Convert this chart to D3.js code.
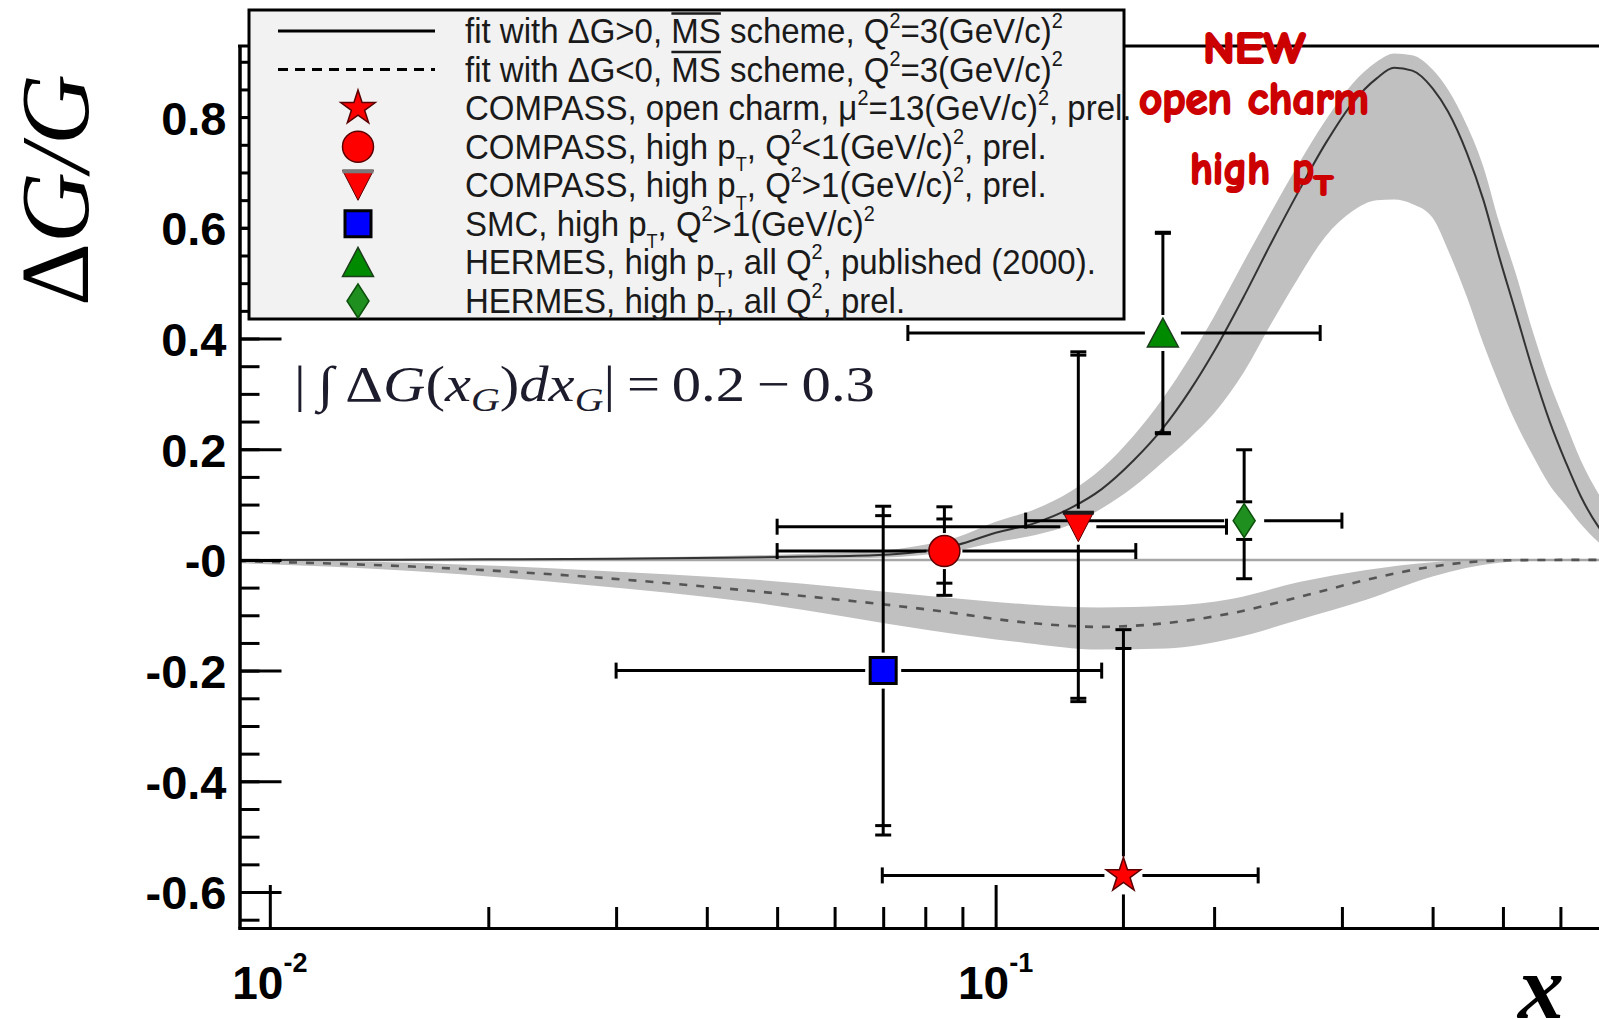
<!DOCTYPE html>
<html>
<head>
<meta charset="utf-8">
<script src="https://cdn.jsdelivr.net/npm/d3@7"></script>
<style>
  body { margin: 0; background: #fff; }
  svg { display: block; }
</style>
</head>
<body>
<svg id="chart" width="1599" height="1019"></svg>
<script>
// ---------------- data ----------------
// Fit with positive gluon polarisation (central curve and error band)
const fitX     = [0.00904, 0.02, 0.03, 0.042, 0.055, 0.069, 0.078, 0.0885, 0.1, 0.1135, 0.127, 0.14, 0.155, 0.17, 0.185, 0.2, 0.22, 0.24, 0.26, 0.285, 0.31, 0.335, 0.354, 0.375, 0.4, 0.42, 0.446, 0.47, 0.494, 0.52, 0.549, 0.58, 0.611, 0.64, 0.676, 0.72];
const fitPos   = [0.000, 0.001, 0.002, 0.004, 0.006, 0.009, 0.0145, 0.027, 0.049, 0.067, 0.094, 0.128, 0.180, 0.238, 0.305, 0.377, 0.477, 0.574, 0.660, 0.753, 0.825, 0.870, 0.889, 0.884, 0.852, 0.810, 0.735, 0.650, 0.548, 0.450, 0.345, 0.250, 0.175, 0.115, 0.061, 0.020];
const fitPosLo = [0.000, 0.000, 0.000, 0.001, 0.002, 0.004, 0.008, 0.017, 0.032, 0.045, 0.064, 0.093, 0.132, 0.177, 0.220, 0.265, 0.340, 0.428, 0.505, 0.585, 0.630, 0.650, 0.651, 0.643, 0.618, 0.560, 0.475, 0.390, 0.318, 0.250, 0.190, 0.135, 0.098, 0.065, 0.033, 0.010];
const fitPosHi = [0.000, 0.002, 0.004, 0.007, 0.011, 0.016, 0.025, 0.041, 0.069, 0.092, 0.124, 0.165, 0.225, 0.292, 0.365, 0.440, 0.540, 0.630, 0.710, 0.795, 0.860, 0.900, 0.915, 0.912, 0.886, 0.850, 0.785, 0.710, 0.610, 0.520, 0.415, 0.320, 0.245, 0.180, 0.121, 0.070];

// Fit with negative gluon polarisation (central curve and error band)
const fitNegX  = [0.00904, 0.0157, 0.0271, 0.0469, 0.081, 0.11, 0.139, 0.172, 0.212, 0.262, 0.324, 0.4, 0.494, 0.6, 0.72];
const fitNeg   = [-0.002, -0.012, -0.030, -0.057, -0.090, -0.113, -0.121, -0.114, -0.096, -0.067, -0.036, -0.012, -0.001, 0.0, 0.0];
const fitNegLo = [-0.006, -0.020, -0.045, -0.078, -0.127, -0.150, -0.162, -0.160, -0.142, -0.108, -0.072, -0.030, -0.005, 0.0, 0.0];
const fitNegHi = [0.000, -0.005, -0.018, -0.036, -0.065, -0.080, -0.086, -0.083, -0.070, -0.040, -0.018, -0.004, 0.001, 0.0, 0.0];

// Measurements: star, circle, down-triangle, square, up-triangle, diamond
const pointShape = ["star", "circle", "triangleDown", "square", "triangleUp", "diamond"];
const pointX     = [0.15, 0.085, 0.13, 0.07, 0.17, 0.22];
const pointY     = [-0.57, 0.016, 0.06, -0.20, 0.41, 0.071];
const pointXLow  = [0.0698, 0.050, 0.050, 0.030, 0.0757, 0.110];
const pointXHigh = [0.230, 0.156, 0.208, 0.140, 0.280, 0.300];
const statErr    = [0.41, 0.058, 0.31, 0.28, 0.18, 0.034];
const totErrUp   = [0.444, 0.080, 0.316, 0.297, 0.182, 0.128];
const totErrDown = [0.444, 0.080, 0.316, 0.297, 0.182, 0.105];

// Axis ticks and labels
const yMajorTicks  = [0.8, 0.6, 0.4, 0.2, 0, -0.2, -0.4, -0.6];
const yTickLabels  = ["0.8", "0.6", "0.4", "0.2", "-0", "-0.2", "-0.4", "-0.6"];
const xMajorTicks  = [0.01, 0.1];
const xTickExp     = ["-2", "-1"];

// Legend
const legendLabels = [
  "fit with ΔG>0, #bar{MS} scheme, Q^{2}=3(GeV/c)^{2}",
  "fit with ΔG<0, #bar{MS} scheme, Q^{2}=3(GeV/c)^{2}",
  "COMPASS, open charm, μ^{2}=13(GeV/c)^{2}, prel.",
  "COMPASS, high p_{T}, Q^{2}<1(GeV/c)^{2}, prel.",
  "COMPASS, high p_{T}, Q^{2}>1(GeV/c)^{2}, prel.",
  "SMC, high p_{T}, Q^{2}>1(GeV/c)^{2}",
  "HERMES, high p_{T}, all Q^{2}, published (2000).",
  "HERMES, high p_{T}, all Q^{2}, prel."
];
const legendKeys = ["solid", "dashed", "star", "circle", "triangleDown", "square", "triangleUp", "diamond"];

// ---------------- styles ----------------
const markerStyle = {
  star:         { fill: "#ff0000", stroke: "#5a0000", sw: 1.5, half: 17 },
  circle:       { fill: "#ff0000", stroke: "#5a0000", sw: 1.5, half: 16 },
  triangleDown: { fill: "#ff0000", stroke: "#5a0000", sw: 1,   half: 16 },
  square:       { fill: "#0000ff", stroke: "#000000", sw: 3,   half: 16 },
  triangleUp:   { fill: "#008a00", stroke: "#1c3d1c", sw: 1.5, half: 16 },
  diamond:      { fill: "#1f8f1f", stroke: "#0c500c", sw: 1.5, half: 18 }
};

function markerPath(shape) {
  const p = d3.path();
  if (shape === "star") return d3.symbol(d3.symbolStar, 370)();
  if (shape === "circle") return d3.symbol(d3.symbolCircle, Math.PI * 15.5 * 15.5)();
  if (shape === "square") return d3.symbol(d3.symbolSquare, 26 * 26)();
  if (shape === "triangleUp") {
    p.moveTo(0, -15); p.lineTo(15.5, 14); p.lineTo(-15.5, 14); p.closePath();
    return p.toString();
  }
  if (shape === "triangleDown") {
    p.moveTo(-15.5, -15); p.lineTo(15.5, -15); p.lineTo(0, 15); p.closePath();
    return p.toString();
  }
  // slim diamond
  p.moveTo(0, -17); p.lineTo(11, 0); p.lineTo(0, 17); p.lineTo(-11, 0); p.closePath();
  return p.toString();
}

function drawMarker(g, shape, cx, cy, topColor) {
  const s = markerStyle[shape];
  g.append("path")
    .attr("d", markerPath(shape))
    .attr("transform", `translate(${cx},${cy})`)
    .attr("fill", s.fill)
    .attr("stroke", s.stroke)
    .attr("stroke-width", s.sw)
    .attr("stroke-linejoin", "miter");
  if (shape === "triangleDown") {
    g.append("line")
      .attr("x1", cx - 15.5).attr("x2", cx + 15.5)
      .attr("y1", cy - 14).attr("y2", cy - 14)
      .attr("stroke", topColor).attr("stroke-width", 4);
  }
}

// ---------------- scales ----------------
const svg = d3.select("#chart");
const xDomain = [0.00904, 0.7];
const yDomain = [-0.665, 0.9285];
const x = d3.scaleLog().domain(xDomain).range([238, 1609]);
const y = d3.scaleLinear().domain(yDomain).range([928, 46]);

svg.append("rect").attr("width", 1599).attr("height", 1019).attr("fill", "#fff");

svg.append("defs").append("clipPath").attr("id", "plotClip")
  .append("rect").attr("x", 240).attr("y", 46).attr("width", 1400).attr("height", 882);

const plotG = svg.append("g").attr("clip-path", "url(#plotClip)");

// ---------------- fit bands and curves ----------------
const posData = fitX.map((v, i) => ({ x: v, c: fitPos[i], lo: fitPosLo[i], hi: fitPosHi[i] }));
const negData = fitNegX.map((v, i) => ({ x: v, c: fitNeg[i], lo: fitNegLo[i], hi: fitNegHi[i] }));

const band = d3.area()
  .x(d => x(d.x)).y0(d => y(d.lo)).y1(d => y(d.hi))
  .curve(d3.curveMonotoneX);
const centre = d3.line()
  .x(d => x(d.x)).y(d => y(d.c))
  .curve(d3.curveMonotoneX);

plotG.append("path").attr("d", band(negData)).attr("fill", "#c0c0c0");
plotG.append("path").attr("d", band(posData)).attr("fill", "#c0c0c0");

// zero line
plotG.append("line")
  .attr("x1", x(xDomain[0])).attr("x2", 1599)
  .attr("y1", y(0)).attr("y2", y(0))
  .attr("stroke", "#a6a6a6").attr("stroke-width", 2.5);

plotG.append("path").attr("d", centre(negData))
  .attr("fill", "none").attr("stroke", "#555").attr("stroke-width", 2.6)
  .attr("stroke-dasharray", "8,9");
plotG.append("path").attr("d", centre(posData))
  .attr("fill", "none").attr("stroke", "#333").attr("stroke-width", 2);

// ---------------- error bars and markers ----------------
const capHalf = 8;
const errG = plotG.append("g").attr("stroke", "#000").attr("stroke-width", 3).attr("fill", "none");
pointX.forEach((px, i) => {
  const cx = x(px), cy = y(pointY[i]);
  const gap = markerStyle[pointShape[i]].half + 2;
  const xl = x(pointXLow[i]), xh = x(pointXHigh[i]);
  // horizontal bar
  errG.append("line").attr("x1", xl).attr("x2", cx - gap).attr("y1", cy).attr("y2", cy);
  errG.append("line").attr("x1", cx + gap).attr("x2", xh).attr("y1", cy).attr("y2", cy);
  [xl, xh].forEach(xx => errG.append("line")
    .attr("x1", xx).attr("x2", xx).attr("y1", cy - capHalf).attr("y2", cy + capHalf));
  // vertical bar (total uncertainty), caps at statistical and total ends
  const yUp = y(pointY[i] + totErrUp[i]);
  const yDn = y(pointY[i] - totErrDown[i]);
  errG.append("line").attr("x1", cx).attr("x2", cx).attr("y1", cy - gap).attr("y2", yUp);
  errG.append("line").attr("x1", cx).attr("x2", cx).attr("y1", cy + gap).attr("y2", yDn);
  [yUp, yDn, y(pointY[i] + statErr[i]), y(pointY[i] - statErr[i])].forEach(yy => errG.append("line")
    .attr("x1", cx - capHalf).attr("x2", cx + capHalf).attr("y1", yy).attr("y2", yy));
});

const markG = plotG.append("g");
pointX.forEach((px, i) => drawMarker(markG, pointShape[i], x(px), y(pointY[i]), "#1a1a1a"));

// ---------------- axes ----------------
const axisFont = "'Liberation Sans', Arial, Helvetica, sans-serif";

const yMinorTicks = d3.range(-13, 19).map(k => k * 0.05);
const yMinor = svg.append("g").attr("transform", "translate(239.5,0)")
  .call(d3.axisLeft(y).tickValues(yMinorTicks).tickSize(-20).tickSizeOuter(0).tickFormat(""));
const yMajor = svg.append("g").attr("transform", "translate(239.5,0)")
  .call(d3.axisLeft(y).tickValues(yMajorTicks).tickSize(-42).tickSizeOuter(0).tickPadding(13)
    .tickFormat((d, i) => yTickLabels[i]));
[yMinor, yMajor].forEach(g => {
  g.selectAll("line").attr("stroke", "#000").attr("stroke-width", 3);
  g.select(".domain").attr("stroke", "#000").attr("stroke-width", 3);
});
yMajor.selectAll("text")
  .attr("font-family", axisFont).attr("font-weight", "bold")
  .attr("font-size", 47).attr("fill", "#000").attr("dy", "0.36em");

const xMinorTicks = x.ticks().filter(t => xMajorTicks.indexOf(t) < 0);
const xMinor = svg.append("g").attr("transform", "translate(0,928)")
  .call(d3.axisBottom(x).tickValues(xMinorTicks).tickSize(-21).tickSizeOuter(0).tickFormat(""));
const xMajor = svg.append("g").attr("transform", "translate(0,928)")
  .call(d3.axisBottom(x).tickValues(xMajorTicks).tickSize(-43).tickSizeOuter(0).tickFormat(""));
[xMinor, xMajor].forEach(g => {
  g.selectAll("line").attr("stroke", "#000").attr("stroke-width", 3);
  g.select(".domain").attr("stroke", "#000").attr("stroke-width", 3);
});

xMajorTicks.forEach((t, i) => {
  const lab = svg.append("text")
    .attr("x", x(t)).attr("y", 999)
    .attr("text-anchor", "middle")
    .attr("font-family", axisFont).attr("font-weight", "bold")
    .attr("font-size", 46).attr("fill", "#000");
  lab.append("tspan").text("10");
  lab.append("tspan").attr("dy", -27).attr("font-size", 27).text(xTickExp[i]);
});

// top frame line
svg.append("line")
  .attr("x1", 238).attr("x2", 1599).attr("y1", 46).attr("y2", 46)
  .attr("stroke", "#000").attr("stroke-width", 3);

// axis titles
const yTitle = svg.append("text")
  .attr("transform", "translate(88,306) rotate(-90)")
  .attr("font-family", "'Liberation Serif', 'Times New Roman', serif")
  .attr("font-size", 98).attr("fill", "#000");
yTitle.append("tspan").text("Δ");
yTitle.append("tspan").attr("font-style", "italic").text("G/G");

svg.append("text")
  .attr("x", 1518).attr("y", 1018)
  .attr("font-family", "'Liberation Serif', 'Times New Roman', serif")
  .attr("font-style", "italic").attr("font-weight", "bold")
  .attr("font-size", 92).attr("fill", "#000")
  .text("x");

// ---------------- integral annotation ----------------
const formulaG = svg.append("g");
const formula = formulaG.append("text")
  .attr("x", 0).attr("y", 0)
  .attr("font-family", "'Liberation Serif', 'Times New Roman', serif")
  .attr("font-size", 50).attr("fill", "#1c1c2c");
[
  ["|", "normal", 0], ["\u2009∫", "italic", 0], ["\u2009Δ", "normal", 0], ["G", "italic", 0],
  ["(", "normal", 0], ["x", "italic", 0], ["G", "italic", 1], [")", "normal", -1],
  ["d", "italic", 0], ["x", "italic", 0], ["G", "italic", 1], ["|", "normal", -1],
  ["\u2009=\u20090.2\u2009−\u20090.3", "normal", 0]
].forEach(([t, st, sub]) => {
  const ts = formula.append("tspan").attr("font-style", st).text(t);
  if (sub === 1) ts.attr("dy", 10).attr("font-size", 34);
  if (sub === -1) ts.attr("dy", -10);
});
{
  const w = formula.node().getBBox().width;
  formulaG.attr("transform", `translate(294,401) scale(${581 / w},1)`);
}

// ---------------- "NEW" annotation ----------------
const handFont = "'Comic Sans MS', 'Comic Neue', 'DejaVu Sans', sans-serif";
const red = "#cc0000";
const hand = (tx, ty, fs, len, str) => svg.append("text").attr("x", tx).attr("y", ty)
  .attr("font-family", handFont).attr("font-weight", "bold").attr("font-size", fs)
  .attr("fill", red).attr("stroke", red).attr("stroke-width", 2.2).attr("stroke-linejoin", "round")
  .attr("textLength", len).attr("lengthAdjust", "spacingAndGlyphs").text(str);
hand(1203, 63, 44, 102, "NEW");
hand(1139, 114, 46, 230, "open charm");
hand(1190, 184, 46, 80, "high");
hand(1292, 184, 46, 22, "p");
hand(1314, 195, 29, 19, "T");

// ---------------- legend ----------------
const legG = svg.append("g");
legG.append("rect")
  .attr("x", 249).attr("y", 10).attr("width", 875).attr("height", 309)
  .attr("fill", "#f2f2f2").attr("stroke", "#000").attr("stroke-width", 3);

const rowY = d3.scaleLinear().domain([0, legendKeys.length - 1]).range([31, 301]);
const legendFont = "'Liberation Sans Narrow', 'Arial Narrow', 'Liberation Sans', Arial, sans-serif";
const legFs = 36;

legendKeys.forEach((k, i) => {
  const cy = rowY(i);
  if (k === "solid" || k === "dashed") {
    legG.append("line").attr("x1", 278).attr("x2", 435).attr("y1", cy).attr("y2", cy)
      .attr("stroke", "#000").attr("stroke-width", 3)
      .attr("stroke-dasharray", k === "dashed" ? "10,7" : null);
  } else {
    drawMarker(legG, k, 358, cy, "#7a7a7a");
  }
});

// Minimal TLatex-like markup: ^{..} superscript, _{..} subscript, #bar{..} overline
function richText(sel, str, fs) {
  const parts = str.split(/(\^\{[^}]*\}|_\{[^}]*\}|#bar\{[^}]*\})/).filter(s => s.length);
  let shift = 0;
  const bars = [];
  let charPos = 0;
  parts.forEach(p => {
    let m;
    if ((m = p.match(/^\^\{(.*)\}$/))) {
      const target = -0.42 * fs;
      sel.append("tspan").attr("dy", target - shift).attr("font-size", fs * 0.6).text(m[1]);
      shift = target; charPos += m[1].length;
    } else if ((m = p.match(/^_\{(.*)\}$/))) {
      const target = 0.34 * fs;
      sel.append("tspan").attr("dy", target - shift).attr("font-size", fs * 0.55).text(m[1]);
      shift = target; charPos += m[1].length;
    } else if ((m = p.match(/^#bar\{(.*)\}$/))) {
      sel.append("tspan").attr("dy", -shift).text(m[1]);
      bars.push([charPos, charPos + m[1].length - 1]);
      shift = 0; charPos += m[1].length;
    } else {
      sel.append("tspan").attr("dy", -shift).text(p);
      shift = 0; charPos += p.length;
    }
  });
  return bars;
}

const legTextG = legG.append("g");
legendLabels.forEach((lab, i) => {
  const base = rowY(i) + 12;
  const t = legTextG.append("text")
    .attr("x", 0).attr("y", base)
    .attr("font-family", legendFont).attr("font-size", legFs).attr("fill", "#1a1a1a");
  const bars = richText(t, lab, legFs);
  bars.forEach(([a, b]) => {
    const ea = t.node().getExtentOfChar(a), eb = t.node().getExtentOfChar(b);
    legTextG.append("line")
      .attr("x1", ea.x).attr("x2", eb.x + eb.width)
      .attr("y1", base - legFs * 0.82).attr("y2", base - legFs * 0.82)
      .attr("stroke", "#1a1a1a").attr("stroke-width", 2.5);
  });
  t.attr("data-row", i);
});
{
  const w0 = legTextG.select("text").node().getBBox().width;
  legTextG.attr("transform", `translate(465,0) scale(${598 / w0},1)`);
}
</script>
</body>
</html>
